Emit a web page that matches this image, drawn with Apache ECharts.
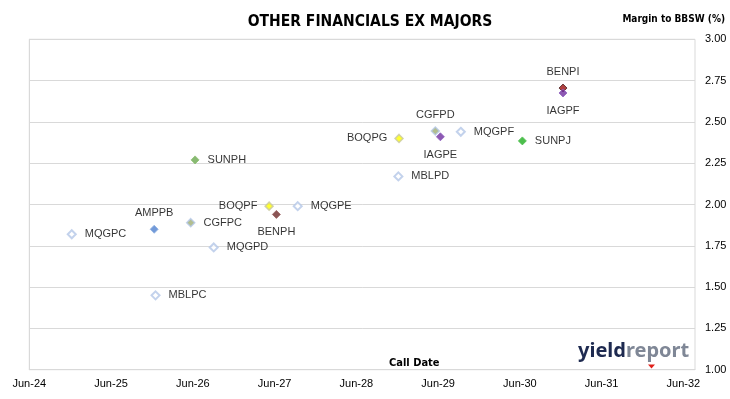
<!DOCTYPE html>
<html>
<head>
<meta charset="utf-8">
<script src="https://cdn.jsdelivr.net/npm/echarts@6/dist/echarts.min.js"></script>
<style>
html,body{margin:0;padding:0;background:#fff;}
#chart{width:730px;height:399px;}
</style>
</head>
<body>
<div id="chart"></div>
<script>
// ---- data ----
const securities = ['MQGPC','AMPPB','MBLPC','CGFPC','SUNPH','MQGPD','BOQPF','BENPH','MQGPE','MBLPD','BOQPG','CGFPD','IAGPE','MQGPF','SUNPJ','BENPI','IAGPF'];
const callDates  = ['2024-12-08','2025-12-11','2025-12-17','2026-05-22','2026-06-11','2026-09-03','2027-05-07','2027-06-09','2027-09-13','2028-12-06','2028-12-09','2029-05-19','2029-06-11','2029-09-11','2030-06-12','2030-12-11','2030-12-11'];
const margins    = [1.82, 1.85, 1.45, 1.89, 2.27, 1.74, 1.99, 1.94, 1.99, 2.17, 2.40, 2.445, 2.41, 2.44, 2.385, 2.705, 2.675];
const xTickLabels = ['Jun-24','Jun-25','Jun-26','Jun-27','Jun-28','Jun-29','Jun-30','Jun-31','Jun-32'];
const yTickLabels = ['1.00','1.25','1.50','1.75','2.00','2.25','2.50','2.75','3.00'];

// ---- styling (not data) ----
const styleOf = {
  MQG: {color:'#FFFFFF', borderColor:'#B4C7E7', borderWidth:2},
  MBL: {color:'#FFFFFF', borderColor:'#B4C7E7', borderWidth:2},
  AMP: {color:'#4F81D0', borderColor:'#8FB0E0', borderWidth:1},
  CGF: {color:'#9FAE72', borderColor:'#B4C7E7', borderWidth:1.5},
  SUNPH: {color:'#6AA84F', borderColor:'#8CC070', borderWidth:1},
  SUNPJ: {color:'#1FAE1F', borderColor:'#50C050', borderWidth:1},
  BOQ: {color:'#FFFF00', borderColor:'#C8C8A0', borderWidth:1.5},
  BENPH: {color:'#6E2B2B', borderColor:'#9A6060', borderWidth:1},
  BENPI: {color:'#9B1010', borderColor:'#4A2020', borderWidth:1},
  IAG: {color:'#7030A0', borderColor:'#9060C0', borderWidth:1}
};
const labelPosOf = {
  MQGPC:'right', AMPPB:'top', MBLPC:'right', CGFPC:'right', SUNPH:'right', MQGPD:'right',
  BOQPF:'left', BENPH:'bottom', MQGPE:'right', MBLPD:'right', BOQPG:'left', CGFPD:'top',
  IAGPE:'bottom', MQGPF:'right', SUNPJ:'right', BENPI:'top', IAGPF:'bottom'
};
function styleFor(name){
  return styleOf[name] || styleOf[name.slice(0,3)];
}
// months elapsed since 1-Jun-2024
function monthsFromBase(s){
  const [y,m,d] = s.split('-').map(Number);
  return (y-2024)*12 + (m-6) + (d-1)/30.4;
}

const LABEL_FONT = '"Liberation Sans", Arial, sans-serif';
const NARROW = '"Liberation Sans Narrow", "Arial Narrow", "DejaVu Sans Condensed", sans-serif';

const data = securities.map((name,i)=>{
  const pos = labelPosOf[name];
  const dist = pos==='right'?8:(pos==='left'?7:(pos==='top'?6:8));
  return {
    name: name,
    value: [monthsFromBase(callDates[i]), margins[i]],
    itemStyle: styleFor(name),
    label: {show:true, position:pos, distance:dist, formatter:name, color:'#000'}
  };
});

const chart = echarts.init(document.getElementById('chart'), null, {renderer:'canvas'});
chart.setOption({
  animation:false,
  backgroundColor:'#FFFFFF',
  grid:{left:29.3, right:35, top:39.3, bottom:29.3, show:true, borderColor:'#D9D9D9', borderWidth:1, containLabel:false, outerBoundsMode:'none'},
  title:{
    text:'OTHER FINANCIALS EX MAJORS',
    left:365, top:9, textAlign:'center',
    textStyle:{fontFamily:NARROW, fontWeight:'bold', fontSize:15.5, color:'#000'}
  },
  xAxis:{
    type:'value', min:0, max:97.7, interval:12,
    axisLine:{show:true, lineStyle:{color:'#D9D9D9'}},
    axisTick:{show:false},
    splitLine:{show:false},
    axisLabel:{
      showMaxLabel:false, margin:9,
      fontFamily:LABEL_FONT, fontSize:11, color:'#000',
      formatter:(v)=> xTickLabels[Math.round(v/12)] || ''
    }
  },
  yAxis:{
    type:'value', min:1, max:3, interval:0.25, position:'right',
    axisLine:{show:true, lineStyle:{color:'#D9D9D9'}},
    axisTick:{show:false},
    splitLine:{show:true, lineStyle:{color:'#D9D9D9', width:1}},
    axisLabel:{
      margin:10, fontFamily:LABEL_FONT, fontSize:11, color:'#000',
      formatter:(v)=> yTickLabels[Math.round((v-1)/0.25)]
    }
  },
  graphic:[
    {type:'text', right:5, top:14, style:{text:'Margin to BBSW (%)', font:'bold 10px '+NARROW, fill:'#000'}},
    {type:'text', left:389, top:358, style:{text:'Call Date', font:'bold 11px '+NARROW, fill:'#000'}},
    {type:'text', left:578, top:341, style:{
      rich:{
        a:{fontFamily:'"Noto Sans", sans-serif', fontWeight:'bold', fontSize:20, fill:'#1E2A50'},
        b:{fontFamily:'"Noto Sans", sans-serif', fontWeight:'bold', fontSize:20, fill:'#7F8796'}
      },
      text:'{a|yield}{b|report}'
    }},
    {type:'polygon', shape:{points:[[648,364.5],[655,364.5],[651.5,368.5]]}, style:{fill:'#E0201A'}}
  ],
  series:[{
    type:'scatter',
    symbol:'diamond',
    symbolSize:8,
    data:data,
    label:{fontFamily:LABEL_FONT, fontSize:11, color:'#000'},
    z:3
  }]
});
</script>
</body>
</html>
